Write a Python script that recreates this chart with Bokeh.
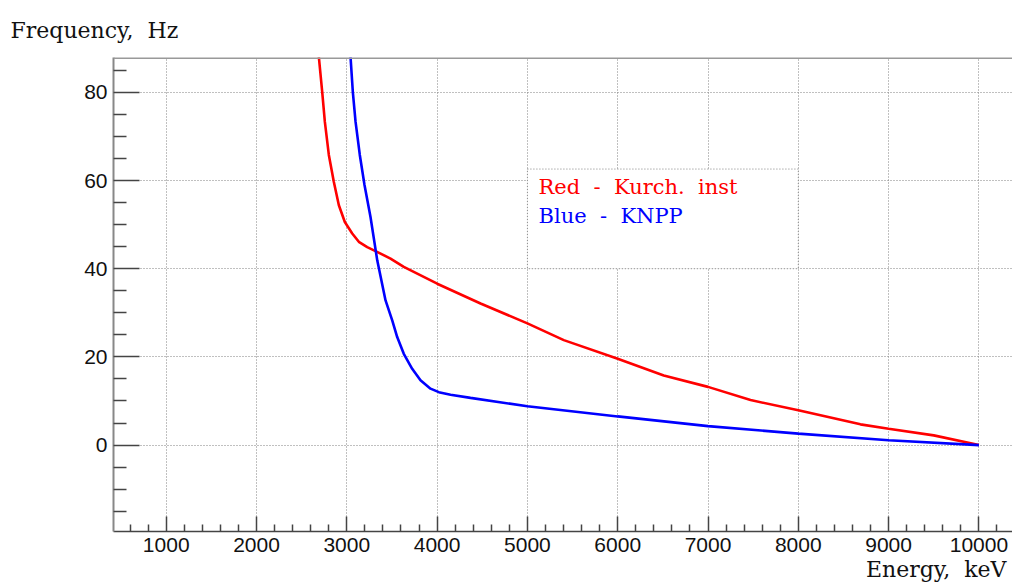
from bokeh.plotting import figure
from bokeh.models import FixedTicker, Label, Range1d, Title, Span
from bokeh.embed import file_html
from bokeh.resources import INLINE

# ---- data ----
red_energy = [2680, 2690, 2728, 2757, 2801, 2856, 2912, 2978, 3060, 3133, 3226, 3318,
              3484, 3631, 4001, 4481, 5000, 5403, 6000, 6510, 7000, 7471, 8000, 8688,
              9000, 9500, 10000]
red_freq = [90.0, 88.1, 80.0, 73.3, 65.8, 59.7, 54.4, 50.6, 48.0, 46.1, 44.9, 44.0,
            42.3, 40.4, 36.6, 32.1, 27.6, 23.8, 19.6, 15.8, 13.2, 10.2, 7.9, 4.7,
            3.7, 2.2, 0.0]

blue_energy = [3030, 3041, 3067, 3097, 3144, 3196, 3262, 3337, 3429, 3503, 3558, 3631,
               3724, 3816, 3927, 4019, 4149, 4370, 5000, 6000, 7000, 8000, 9000, 10000]
blue_freq = [90.0, 88.1, 80.0, 73.3, 65.8, 59.0, 51.8, 41.9, 32.8, 28.3, 24.5, 20.7,
             17.3, 14.7, 12.8, 12.0, 11.4, 10.7, 8.8, 6.5, 4.3, 2.6, 1.1, 0.0]

x_ticks = [1000, 2000, 3000, 4000, 5000, 6000, 7000, 8000, 9000, 10000]
y_ticks = [0, 20, 40, 60, 80]
x_lim = (416.3, 10372)
y_lim = (-19.6, 87.9)

legend_box = dict(left=5000, right=8000, bottom=40, top=62.6)
NB = "\u00a0"
legend_texts = [f"Red{NB}{NB}-{NB}{NB}Kurch.{NB}{NB}inst", f"Blue{NB}{NB}-{NB}{NB}KNPP"]
x_title = f"Energy,{NB}{NB}keV"
y_title = f"Frequency,{NB}{NB}Hz"

SERIF = "DejaVu Serif"
SANS = "Liberation Sans"

p = figure(width=1012, height=584, output_backend="svg", toolbar_location=None,
           x_range=Range1d(*x_lim), y_range=Range1d(*y_lim),
           min_border_left=113, min_border_right=0, min_border_top=57,
           min_border_bottom=53)
p.outline_line_color = None
p.background_fill_color = "white"
p.border_fill_color = "white"

x_minor = [v for v in range(600, 10201, 200) if v % 1000 != 0]
y_minor = [v for v in range(-15, 86, 5) if v % 20 != 0]

p.xaxis.ticker = FixedTicker(ticks=x_ticks, minor_ticks=x_minor)
p.yaxis.ticker = FixedTicker(ticks=y_ticks, minor_ticks=y_minor)
p.xgrid.ticker = FixedTicker(ticks=x_ticks)
p.ygrid.ticker = FixedTicker(ticks=y_ticks)

for g in (p.xgrid, p.ygrid):
    g.grid_line_color = "#808080"
    g.grid_line_dash = "1 2"
    g.grid_line_width = 1

for ax in (p.xaxis, p.yaxis):
    ax.major_label_text_font = SANS
    ax.major_label_text_font_size = "21px"
    ax.major_label_text_color = "#111111"
    ax.major_tick_line_color = "#444444"
    ax.minor_tick_line_color = "#444444"
    ax.major_tick_line_width = 1.5
    ax.minor_tick_line_width = 1.5
    ax.major_tick_out = 0
    ax.minor_tick_out = 0
    ax.major_label_standoff = 6

p.xaxis.major_tick_in = 15
p.xaxis.minor_tick_in = 7
p.xaxis.axis_line_color = "#444444"
p.xaxis.axis_line_width = 1.5
p.yaxis.major_tick_in = 26
p.yaxis.minor_tick_in = 13
p.yaxis.axis_line_color = "#888888"
p.yaxis.axis_line_width = 2

# top frame edge
p.add_layout(Span(location=y_lim[1], dimension="width", line_color="#999999",
                  line_width=3))

# legend box (white, covers grid) with dotted border like grid
p.quad(left=[legend_box["left"]], right=[legend_box["right"]],
       bottom=[legend_box["bottom"]], top=[legend_box["top"]],
       fill_color="white", line_color="#808080", line_dash="1 2", line_width=1)

p.line(red_energy, red_freq, line_color="#ff0000", line_width=2.6)
p.line(blue_energy, blue_freq, line_color="#0000ff", line_width=2.6)

p.add_layout(Label(x=5123, y=58.5, text=legend_texts[0], text_color="#ff0000",
                   text_font=SERIF, text_font_size="21px", text_baseline="alphabetic"))
p.add_layout(Label(x=5123, y=51.9, text=legend_texts[1], text_color="#0000ff",
                   text_font=SERIF, text_font_size="21px", text_baseline="alphabetic"))

p.add_layout(Title(text=y_title, align="left", offset=-103, standoff=30,
                   text_color="#111111", text_font=SERIF, text_font_size="22px",
                   text_font_style="normal"), "above")
p.add_layout(Title(text=x_title, align="right", offset=6, standoff=0,
                   text_color="#111111", text_font=SERIF, text_font_size="22px",
                   text_font_style="normal"), "below")

open("out.html", "w").write(file_html(p, INLINE))
